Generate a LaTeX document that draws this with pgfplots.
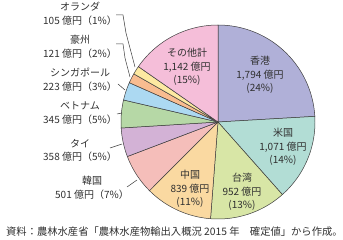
\documentclass[border=0pt]{standalone}
\usepackage{pgfplots}
\pgfplotsset{compat=1.18}
\usepackage{fontspec}
\setmainfont{Noto Sans CJK JP}
\definecolor{edge}{HTML}{3C3C3C}
\definecolor{txt}{HTML}{303030}
\definecolor{cHK}{HTML}{B0B0D8}
\definecolor{cUS}{HTML}{B2DDD5}
\definecolor{cTW}{HTML}{D8E6A6}
\definecolor{cCN}{HTML}{FAD9A1}
\definecolor{cKR}{HTML}{F5BEBA}
\definecolor{cTH}{HTML}{D3B2D6}
\definecolor{cVN}{HTML}{B6D8A6}
\definecolor{cSG}{HTML}{ACD9F2}
\definecolor{cAU}{HTML}{F8BC90}
\definecolor{cNL}{HTML}{FDE9A1}
\definecolor{cOT}{HTML}{F5BED9}
\def\total{7451}
\def\cum{0}
\newcommand{\slice}[2]{%
  \pgfmathsetmacro{\sa}{90-(\cum/\total)*360}%
  \pgfmathsetmacro{\sb}{90-((\cum+#1)/\total)*360}%
  \edef\doit{\noexpand\addplot[draw=edge, line width=0.5pt, fill=#2, domain=\sb:\sa, samples=60, line join=round] ({cos(x)},{sin(x)}) -- (axis cs:0,0) -- cycle;}%
  \doit
  \pgfmathsetmacro{\newcum}{\cum+#1}%
  \global\let\cum\newcum
}
\newcommand{\px}[2]{(#1bp,{240bp-#2bp})}
\begin{document}
\begin{tikzpicture}[font=\fontsize{10bp}{13.5bp}\selectfont, every node/.style={text=txt, inner sep=0pt}]
\path[use as bounding box] (0,0) rectangle (343bp,240bp);
\begin{axis}[at={(218bp,118bp)}, anchor=origin, hide axis, scale only axis,
  x=97bp, y=97bp, xmin=-1, xmax=1, ymin=-1, ymax=1, clip=false]
\slice{1794}{cHK}
\slice{1071}{cUS}
\slice{952}{cTW}
\slice{839}{cCN}
\slice{501}{cKR}
\slice{358}{cTH}
\slice{345}{cVN}
\slice{223}{cSG}
\slice{121}{cAU}
\slice{105}{cNL}
\slice{1142}{cOT}
\end{axis}
% leader lines
\begin{scope}[draw=edge, line width=0.5pt]
\draw \px{116}{15} -- \px{123}{15} -- \px{126}{33} -- \px{135}{67};
\draw \px{116}{44} -- \px{123}{44} -- \px{125}{58} -- \px{130}{77};
\draw \px{118}{84} -- \px{125}{90};
\draw \px{117}{114} -- \px{122}{113};
\draw \px{110}{148} -- \px{122}{144};
\draw \px{127}{187} -- \px{137}{180};
\end{scope}
% outer labels
\node[align=center] at \px{80}{14} {オランダ\\105 億円（1\%）};
\node[align=center] at \px{80}{47} {豪州\\121 億円（2\%）};
\node[align=center] at \px{80}{79.5} {シンガポール\\223 億円（3\%）};
\node[align=center] at \px{80}{113} {ベトナム\\345 億円（5\%）};
\node[align=center] at \px{80}{150.5} {タイ\\358 億円（5\%）};
\node[align=center] at \px{92}{188} {韓国\\501 億円（7\%）};
% inner labels
\node[align=center] at \px{187}{67} {その他計\\1,142 億円\\(15\%)};
\node[align=center] at \px{260}{75} {香港\\1,794 億円\\(24\%)};
\node[align=center] at \px{283}{147} {米国\\1,071 億円\\(14\%)};
\node[align=center] at \px{242}{192} {台湾\\952 億円\\(13\%)};
\node[align=center] at \px{190}{189} {中国\\839 億円\\(11\%)};
% footer
\node[anchor=west, font=\fontsize{10.3bp}{12bp}\selectfont] at \px{6}{232} {資料：農林水産省「農林水産物輸出入概況 2015 年　確定値」から作成。};
\end{tikzpicture}
\end{document}
